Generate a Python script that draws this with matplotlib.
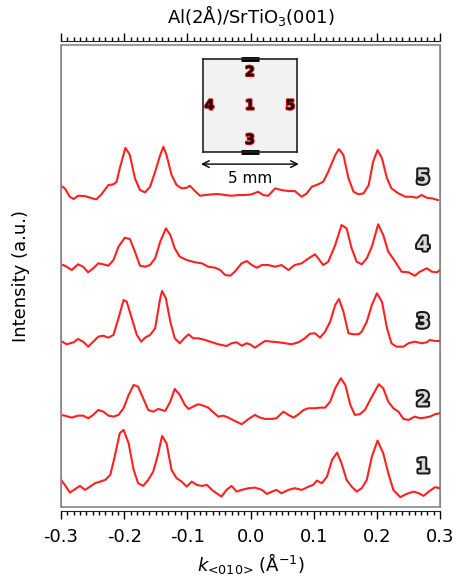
import matplotlib
matplotlib.use("Agg")
import matplotlib.pyplot as plt
import matplotlib.patheffects as pe
from matplotlib.patches import Rectangle
from matplotlib.ticker import MultipleLocator

# ==============================
# Data (k in 1/A, intensity in a.u. above each trace's baseline)
# ==============================
k1 = [-0.300, -0.294, -0.286, -0.278, -0.270, -0.262, -0.254, -0.246, -0.238, -0.230,
      -0.222, -0.215, -0.207, -0.201, -0.193, -0.185, -0.178, -0.170, -0.162, -0.154,
      -0.146, -0.140, -0.133, -0.125, -0.117, -0.109, -0.101, -0.093, -0.085, -0.077,
      -0.069, -0.061, -0.054, -0.046, -0.038, -0.030, -0.022, -0.014, -0.003, 0.007,
      0.018, 0.026, 0.034, 0.041, 0.049, 0.060, 0.070, 0.081, 0.092, 0.099,
      0.105, 0.113, 0.121, 0.129, 0.137, 0.144, 0.152, 0.160, 0.168, 0.176,
      0.184, 0.192, 0.201, 0.210, 0.218, 0.226, 0.237, 0.247, 0.258, 0.266,
      0.274, 0.282, 0.292, 0.300]
i1 = [15.0, 10.0, 2.3, 5.7, 9.0, 5.0, 8.3, 11.7, 13.3, 15.0,
      20.0, 38.3, 61.7, 65.0, 51.7, 25.0, 11.7, 9.0, 15.0, 23.3,
      41.7, 59.0, 51.7, 25.0, 16.7, 13.3, 8.3, 13.3, 10.0, 9.0,
      10.0, 5.0, 1.7, -1.7, 5.0, 9.0, 3.3, 5.0, 6.7, 7.3,
      5.0, 1.0, 3.3, 5.0, 1.7, 5.0, 6.7, 5.0, 8.3, 10.0,
      14.3, 11.7, 18.3, 35.0, 42.3, 31.7, 15.0, 8.3, 3.3, 6.7,
      15.0, 38.3, 54.3, 41.7, 21.7, 5.0, -2.3, 1.0, 3.3, 1.7,
      -1.0, 3.3, 7.7, 6.7]

k2 = [-0.300, -0.294, -0.283, -0.273, -0.265, -0.257, -0.249, -0.241, -0.233, -0.225,
      -0.217, -0.209, -0.201, -0.193, -0.185, -0.178, -0.170, -0.162, -0.154, -0.146,
      -0.135, -0.127, -0.120, -0.112, -0.104, -0.098, -0.091, -0.083, -0.075, -0.067,
      -0.059, -0.051, -0.043, -0.035, -0.025, -0.014, -0.003, 0.007, 0.015, 0.023,
      0.034, 0.041, 0.052, 0.060, 0.068, 0.076, 0.084, 0.092, 0.102, 0.110,
      0.118, 0.126, 0.134, 0.143, 0.150, 0.158, 0.165, 0.173, 0.181, 0.192,
      0.203, 0.210, 0.218, 0.226, 0.234, 0.242, 0.250, 0.260, 0.268, 0.276,
      0.284, 0.292, 0.300]
i2 = [5.0, 4.3, 2.3, 4.3, 4.3, 1.7, 5.0, 10.0, 8.3, 4.3,
      3.3, 5.0, 11.7, 25.0, 35.0, 33.3, 21.7, 10.0, 8.3, 11.0,
      9.0, 18.3, 31.0, 25.0, 15.0, 11.0, 13.3, 15.7, 14.3, 12.3,
      7.7, 3.3, 4.3, 2.3, -1.0, -4.3, 1.0, 5.0, 2.3, 1.0,
      1.0, 1.7, 8.3, 5.0, 2.3, 5.7, 10.0, 11.7, 11.7, 12.3,
      12.3, 18.3, 31.7, 41.7, 35.0, 15.0, 5.0, 5.7, 10.0, 23.3,
      35.7, 31.7, 18.3, 11.7, 8.3, 1.0, 0.0, 3.3, 1.7, 2.3,
      3.3, 5.7, 6.7]

k3 = [-0.300, -0.291, -0.280, -0.273, -0.265, -0.257, -0.249, -0.241, -0.233, -0.225,
      -0.217, -0.209, -0.201, -0.196, -0.188, -0.180, -0.173, -0.167, -0.159, -0.151,
      -0.143, -0.140, -0.134, -0.127, -0.120, -0.112, -0.104, -0.098, -0.091, -0.083,
      -0.072, -0.061, -0.051, -0.038, -0.030, -0.022, -0.014, -0.006, -0.001, 0.007,
      0.015, 0.023, 0.034, 0.044, 0.055, 0.065, 0.076, 0.086, 0.094, 0.102,
      0.110, 0.118, 0.126, 0.134, 0.140, 0.147, 0.155, 0.163, 0.171, 0.176,
      0.184, 0.192, 0.200, 0.208, 0.216, 0.223, 0.231, 0.242, 0.250, 0.260,
      0.271, 0.279, 0.284, 0.292, 0.300]
i3 = [9.0, 5.7, 7.7, 11.0, 8.3, 3.3, 8.3, 13.3, 14.3, 12.3,
      15.0, 31.7, 50.0, 48.3, 31.7, 15.0, 8.3, 12.3, 15.0, 21.7,
      51.7, 59.0, 51.7, 28.3, 11.7, 6.7, 12.3, 15.7, 11.7, 11.7,
      10.0, 7.7, 5.7, 4.0, 6.7, 7.7, 4.3, 6.7, 5.7, 2.3,
      5.7, 9.0, 8.3, 7.7, 6.7, 5.7, 7.7, 11.7, 16.3, 16.7,
      12.3, 18.3, 28.3, 45.0, 51.0, 38.3, 16.7, 15.7, 15.7, 18.3,
      28.3, 45.0, 56.7, 48.3, 21.7, 6.7, 3.3, 3.3, 6.7, 8.3,
      6.7, 7.7, 10.0, 9.0, 9.0]

k4 = [-0.300, -0.294, -0.283, -0.273, -0.265, -0.257, -0.249, -0.241, -0.233, -0.225,
      -0.217, -0.209, -0.199, -0.191, -0.183, -0.175, -0.167, -0.159, -0.151, -0.143,
      -0.134, -0.127, -0.120, -0.112, -0.101, -0.088, -0.077, -0.067, -0.056, -0.048,
      -0.040, -0.032, -0.025, -0.014, -0.006, 0.002, 0.010, 0.018, 0.028, 0.039,
      0.049, 0.060, 0.070, 0.081, 0.092, 0.102, 0.107, 0.115, 0.123, 0.134,
      0.144, 0.152, 0.160, 0.168, 0.176, 0.184, 0.192, 0.202, 0.210, 0.218,
      0.229, 0.239, 0.250, 0.260, 0.268, 0.279, 0.287, 0.295, 0.300]
i4 = [7.7, 6.3, 2.0, 7.7, 5.3, -0.3, 3.7, 8.7, 7.7, 6.3,
      12.0, 25.3, 34.3, 33.0, 20.3, 6.3, 5.3, 7.0, 13.7, 30.3,
      43.7, 37.0, 23.7, 15.3, 12.0, 9.7, 8.7, 5.3, 4.3, 2.0,
      -3.0, -3.7, 0.3, 8.7, 11.0, 7.0, 4.3, 7.0, 7.0, 5.3,
      7.0, 2.0, 7.0, 8.7, 13.7, 17.7, 13.7, 7.0, 10.3, 27.0,
      47.0, 43.7, 23.7, 10.3, 7.7, 13.7, 25.3, 47.7, 37.0, 20.3,
      10.3, 0.3, -0.3, -3.7, 0.3, 3.7, 0.3, -0.3, 2.0]

k5 = [-0.300, -0.294, -0.286, -0.280, -0.273, -0.262, -0.251, -0.244, -0.236, -0.225,
      -0.217, -0.212, -0.207, -0.198, -0.191, -0.183, -0.175, -0.167, -0.159, -0.151,
      -0.143, -0.138, -0.133, -0.125, -0.117, -0.109, -0.101, -0.096, -0.088, -0.080,
      -0.072, -0.061, -0.051, -0.040, -0.030, -0.019, -0.009, 0.002, 0.012, 0.020,
      0.028, 0.039, 0.049, 0.060, 0.070, 0.081, 0.089, 0.097, 0.107, 0.115,
      0.123, 0.134, 0.140, 0.147, 0.155, 0.163, 0.171, 0.179, 0.187, 0.194,
      0.201, 0.208, 0.216, 0.223, 0.234, 0.245, 0.255, 0.263, 0.271, 0.279,
      0.287, 0.297]
i5 = [9.3, 6.7, -1.7, -4.0, -0.7, -1.0, -3.3, -4.3, 0.7, 10.0,
      10.7, 13.3, 26.7, 47.3, 40.0, 16.7, 5.0, 2.7, 8.3, 23.3,
      40.0, 48.3, 40.0, 20.0, 10.0, 6.7, 7.3, 9.3, 4.0, -0.7,
      0.0, 0.7, 1.0, 0.0, -0.7, 0.0, 0.0, 0.7, 3.3, 0.0,
      -0.7, 6.7, 5.0, 4.0, 4.0, -1.7, 1.7, 8.3, 10.7, 13.3,
      23.3, 40.0, 46.0, 40.0, 16.7, 3.3, 0.7, 1.7, 10.0, 33.3,
      45.0, 36.7, 16.7, 6.7, 1.7, -1.7, -1.7, -2.7, 0.0, -2.7,
      -3.3, -5.0]

trace_labels = ["1", "2", "3", "4", "5"]
trace_offsets = [12, 87, 157, 235, 312]      # vertical stacking (a.u.)
label_heights = [40, 107, 185, 262, 329]

# spot positions on the 5 mm sample (mm from lower-left corner)
spot_labels = ["1", "2", "3", "4", "5"]
spot_x = [2.5, 2.5, 2.5, 0.35, 4.65]
spot_y = [2.5, 4.3, 0.65, 2.5, 2.5]

# ==============================
# Figure
# ==============================
fig = plt.figure(figsize=(4.57, 5.86), dpi=100)
ax = fig.add_axes([0.1335, 0.135, 0.8295, 0.788])

red = "#ff2020"
traces = [(k1, i1), (k2, i2), (k3, i3), (k4, i4), (k5, i5)]
for (k, inten), off in zip(traces, trace_offsets):
    ax.plot(k, [v + off for v in inten], color=red, lw=1.5,
            solid_joinstyle="round", solid_capstyle="round")

outline = [pe.withSimplePatchShadow(offset=(1, -1), shadow_rgbFace="#555555", alpha=0.7),
           pe.withStroke(linewidth=3, foreground="#1a1a1a")]
for lab, yh in zip(trace_labels, label_heights):
    ax.text(0.273, yh, lab, fontsize=14, fontweight="bold", color="#d8d8d8",
            ha="center", va="center", path_effects=outline)

ax.set_xlim(-0.3, 0.3)
ax.set_ylim(0, 462)
ax.set_xticks([-0.3, -0.2, -0.1, 0.0, 0.1, 0.2, 0.3])
ax.set_xticklabels(["-0.3", "-0.2", "-0.1", "0.0", "0.1", "0.2", "0.3"])
ax.xaxis.set_minor_locator(MultipleLocator(0.01))
ax.set_yticks([])
ax.tick_params(axis="x", which="both", direction="out", top=True, labeltop=False,
               labelsize=13, width=1, pad=6)
ax.tick_params(axis="x", which="major", length=6)
ax.tick_params(axis="x", which="minor", length=3)

# grey frame, black tick axes slightly outside
for side in ["left", "right"]:
    ax.spines[side].set_color("#888888")
for side in ["top", "bottom"]:
    ax.spines[side].set_position(("outward", 3))
    ax.spines[side].set_color("#222222")
ax.add_patch(Rectangle((0, 0), 1, 1, transform=ax.transAxes, fill=False,
                       edgecolor="#888888", lw=1.2, clip_on=False))

ax.set_xlabel("$k_{\\text{<010>}}$ (Å$^{-1}$)", fontsize=13, labelpad=4)
ax.set_ylabel("Intensity (a.u.)", fontsize=13, labelpad=22)
ax.set_title("Al(2Å)/SrTiO$_3$(001)", fontsize=13, pad=16)

# ==============================
# Inset: sample map
# ==============================
ins = fig.add_axes([0.444, 0.7406, 0.2057, 0.1587])
ins.set_xlim(0, 5)
ins.set_ylim(0, 5)
ins.set_facecolor("#f2f2f2")
ins.set_xticks([])
ins.set_yticks([])
for s in ins.spines.values():
    s.set_color("#222222")
    s.set_linewidth(1.2)
ins.plot([2.0, 3.0], [5.0, 5.0], color="black", lw=3.5, clip_on=False, solid_capstyle="butt")
ins.plot([2.0, 3.0], [0.0, 0.0], color="black", lw=3.5, clip_on=False, solid_capstyle="butt")
spot_fx = [pe.withStroke(linewidth=1.5, foreground="#cc1010")]
for lab, sx, sy in zip(spot_labels, spot_x, spot_y):
    ins.text(sx, sy, lab, fontsize=10, fontweight="bold", color="#1a0000",
             ha="center", va="center", path_effects=spot_fx)

ins.annotate("", xy=(-0.1, -0.65), xytext=(5.1, -0.65), xycoords="data",
             arrowprops=dict(arrowstyle="<->", color="black", lw=1.0,
                             mutation_scale=12, shrinkA=0, shrinkB=0),
             annotation_clip=False)
ins.text(2.5, -1.45, "5 mm", fontsize=11, ha="center", va="center")

fig.savefig("out.png", dpi=100)
